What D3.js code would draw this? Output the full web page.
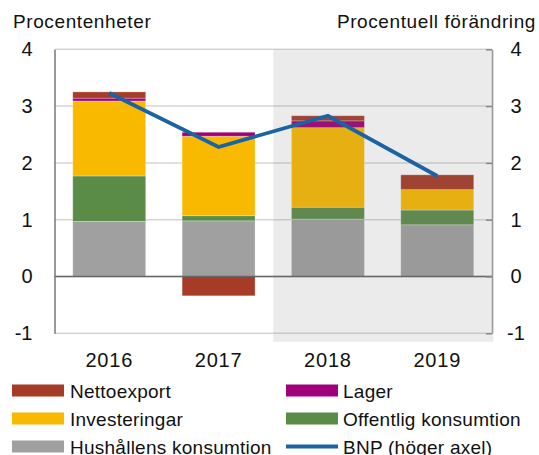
<!DOCTYPE html>
<html>
<head>
<meta charset="utf-8">
<script src="https://d3js.org/d3.v7.min.js"></script>
<style>
body { margin: 0; background: #fff; }
text { font-family: "Liberation Sans", Arial, sans-serif; fill: #111; }
</style>
</head>
<body>
<script>
// data
var years = ["2016", "2017", "2018", "2019"];
var hushall = [0.97, 0.98, 1.01, 0.91];
var offentlig = [0.80, 0.09, 0.21, 0.26];
var invest = [1.32, 1.40, 1.40, 0.36];
var lager = [0.05, 0.07, 0.12, 0.0];
var netto = [0.11, -0.34, 0.09, 0.26];
var bnp = [3.23, 2.28, 2.83, 1.77];
var yTicks = [-1, 0, 1, 2, 3, 4];

var seriesNames = ["Hushållens konsumtion", "Offentlig konsumtion", "Investeringar", "Lager", "Nettoexport"];
var seriesColors = ["#a0a0a0", "#5b8c47", "#f9b900", "#a0007a", "#a63b27"];

var width = 539, height = 455;
// plot area (note: "top" is taken by window.top)
var plotL = 54.5, plotR = 492, plotT = 49.3, plotB = 333.3;

var svg = d3.select("body").append("svg")
    .attr("width", width)
    .attr("height", height);

var x = d3.scaleBand()
    .domain(years)
    .range([plotL, plotR])
    .paddingInner(0.333)
    .paddingOuter(0.167);

var y = d3.scaleLinear().domain([-1, 4]).range([plotB, plotT]);

// plain hyphen for negatives, like the original
function fmt(d) { return String(d); }

// build rows for the stack
var rows = years.map(function (d, i) {
    return {
        year: d,
        "Hushållens konsumtion": hushall[i],
        "Offentlig konsumtion": offentlig[i],
        "Investeringar": invest[i],
        "Lager": lager[i],
        "Nettoexport": netto[i]
    };
});
var stack = d3.stack().keys(seriesNames).offset(d3.stackOffsetDiverging);
var layers = stack(rows);

// grid lines
svg.append("g").selectAll("line").data(yTicks).enter().append("line")
    .attr("x1", plotL).attr("x2", plotR)
    .attr("y1", function (d) { return y(d); })
    .attr("y2", function (d) { return y(d); })
    .attr("stroke", "#d6d6d6")
    .attr("stroke-width", 1.5);

// bars
svg.append("g").selectAll("g").data(layers).enter().append("g")
    .attr("fill", function (d, i) { return seriesColors[i]; })
    .selectAll("rect").data(function (d) { return d; }).enter().append("rect")
    .attr("x", function (d) { return x(d.data.year); })
    .attr("width", x.bandwidth())
    .attr("y", function (d) { return y(Math.max(d[0], d[1])); })
    .attr("height", function (d) { return Math.abs(y(d[0]) - y(d[1])); })
    .attr("stroke", "#fff")
    .attr("stroke-opacity", 0.35)
    .attr("stroke-width", 0.8);

// forecast shading (drawn over the bars, they look darker there)
var shadeX = x("2018") - x.step() * x.paddingInner() / 2;
svg.append("rect")
    .attr("x", shadeX)
    .attr("y", plotT)
    .attr("width", plotR + 1.5 - shadeX)
    .attr("height", plotB + 8.5 - plotT)
    .attr("fill", "#797979")
    .attr("fill-opacity", 0.15);

// zero line
svg.append("line")
    .attr("x1", plotL).attr("x2", plotR)
    .attr("y1", y(0)).attr("y2", y(0))
    .attr("stroke", "#666")
    .attr("stroke-width", 1.5);

// left axis
var yLeft = d3.axisLeft(y).tickValues(yTicks).tickSize(0).tickPadding(22).tickFormat(fmt);
var gl = svg.append("g").attr("transform", "translate(" + plotL + ",0)").call(yLeft);
gl.select(".domain").attr("stroke", "#777").attr("stroke-width", 1.5);
gl.selectAll("text").style("font-size", "20px").attr("fill", "#111");

// right axis, ticks pointing inward
var yRight = d3.axisRight(y).tickValues(yTicks).tickSizeInner(-6).tickSizeOuter(0).tickPadding(0).tickFormat(fmt);
var gr = svg.append("g").attr("transform", "translate(" + plotR + ",0)").call(yRight);
gr.select(".domain").attr("stroke", "#999").attr("stroke-width", 1.5);
gr.selectAll(".tick line").attr("stroke", "#888").attr("stroke-width", 1.5);
gr.selectAll("text").style("font-size", "20px").attr("fill", "#111")
    .attr("text-anchor", "middle").attr("x", 24);

// BNP line
var line = d3.line()
    .x(function (d, i) { return x(years[i]) + x.bandwidth() / 2; })
    .y(function (d) { return y(d); });
svg.append("path")
    .attr("d", line(bnp))
    .attr("fill", "none")
    .attr("stroke", "#1a63a5")
    .attr("stroke-width", 3.8);

// x labels
svg.append("g").selectAll("text").data(years).enter().append("text")
    .attr("x", function (d) { return x(d) + x.bandwidth() / 2; })
    .attr("y", 367)
    .attr("text-anchor", "middle")
    .style("font-size", "20px")
    .style("letter-spacing", "0.8px")
    .text(function (d) { return d; });

// axis titles
svg.append("text").attr("x", 13).attr("y", 28)
    .style("font-size", "19px").style("letter-spacing", "0.6px")
    .text("Procentenheter");
svg.append("text").attr("x", 536).attr("y", 28)
    .attr("text-anchor", "end")
    .style("font-size", "19px").style("letter-spacing", "0.6px")
    .text("Procentuell förändring");

// legend
var legendItems = [
    {name: "Nettoexport", color: seriesColors[4], col: 0, row: 0},
    {name: "Investeringar", color: seriesColors[2], col: 0, row: 1},
    {name: "Hushållens konsumtion", color: seriesColors[0], col: 0, row: 2},
    {name: "Lager", color: seriesColors[3], col: 1, row: 0},
    {name: "Offentlig konsumtion", color: seriesColors[1], col: 1, row: 1},
    {name: "BNP (höger axel)", color: "#1a63a5", col: 1, row: 2, line: true}
];
var legend = svg.append("g").selectAll("g").data(legendItems).enter().append("g")
    .attr("transform", function (d) {
        return "translate(" + (d.col == 0 ? 12 : 286) + "," + (390.5 + d.row * 28) + ")";
    });
legend.each(function (d) {
    var g = d3.select(this);
    if (d.line) {
        g.append("line").attr("x1", 0).attr("x2", 52).attr("y1", 0).attr("y2", 0)
            .attr("stroke", d.color).attr("stroke-width", 3.8);
    } else {
        g.append("rect").attr("x", 0).attr("y", -6).attr("width", 52).attr("height", 12)
            .attr("fill", d.color);
    }
});
legend.append("text")
    .attr("x", function (d) { return d.col == 0 ? 58 : 57; })
    .attr("y", 7)
    .style("font-size", "19px")
    .style("letter-spacing", "0.25px")
    .text(function (d) { return d.name; });
</script>
</body>
</html>
